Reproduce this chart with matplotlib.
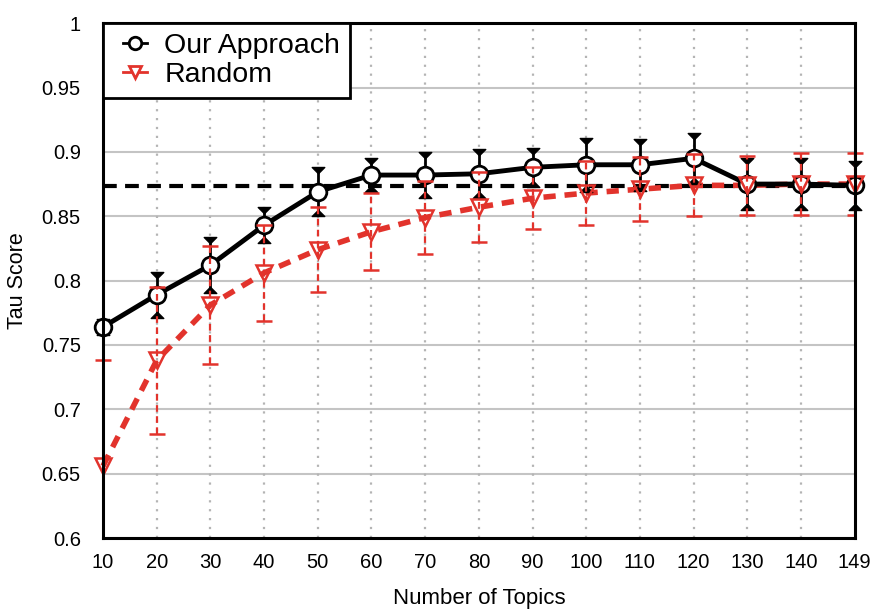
import matplotlib
matplotlib.use("Agg")
import matplotlib.pyplot as plt
import numpy as np
from matplotlib.path import Path
from matplotlib.legend_handler import HandlerLine2D

plt.rcParams['font.family'] = ['Liberation Sans', 'DejaVu Sans']

topics = ["10", "20", "30", "40", "50", "60", "70", "80", "90", "100", "110", "120", "130", "140", "149"]
ours = [0.764, 0.789, 0.812, 0.843, 0.869, 0.882, 0.882, 0.883, 0.888, 0.890, 0.890, 0.895, 0.875, 0.875, 0.874]
ours_err = [0.006, 0.018, 0.022, 0.014, 0.019, 0.013, 0.018, 0.019, 0.015, 0.021, 0.020, 0.020, 0.020, 0.020, 0.019]
rand = [0.656, 0.738, 0.781, 0.806, 0.824, 0.838, 0.849, 0.857, 0.864, 0.868, 0.871, 0.874, 0.874, 0.875, 0.875]
rand_err = [0.082, 0.057, 0.046, 0.037, 0.033, 0.030, 0.028, 0.027, 0.024, 0.025, 0.025, 0.024, 0.023, 0.024, 0.024]
baseline = 0.8735
yticks = [0.6, 0.65, 0.7, 0.75, 0.8, 0.85, 0.9, 0.95, 1.0]
ytick_labels = ["0.6", "0.65", "0.7", "0.75", "0.8", "0.85", "0.9", "0.95", "1"]

RED = '#e2332c'

fig = plt.figure(figsize=(8.73, 6.10), dpi=100)
ax = fig.add_axes([0.118, 0.118, 0.861, 0.844])
x = np.arange(len(topics))
ours = np.array(ours); ours_err = np.array(ours_err)
rand = np.array(rand); rand_err = np.array(rand_err)

# grid
for yv in yticks:
    ax.axhline(yv, color='#c4c4c4', lw=1.5, zorder=0)
for xv in x[1:-1]:
    ax.axvline(xv, color='#b4b4b4', lw=1.6, ls=(0, (1, 3)), zorder=0)

# baseline
ax.axhline(baseline, color='black', lw=3, ls=(0, (3.3, 2)), zorder=2)

# random series
ax.plot(x, rand, color=RED, lw=4, ls=(0, (2.2, 1.6)), zorder=3, clip_on=False)
# random error bars
ax.vlines(x, rand - rand_err, rand + rand_err, color=RED, lw=1.6, ls=(0, (3, 2)), zorder=6)
ax.plot(x, rand + rand_err, ls='none', marker='_', ms=12, mew=1.8, color=RED, zorder=6, clip_on=False)
ax.plot(x, rand - rand_err, ls='none', marker='_', ms=12, mew=1.8, color=RED, zorder=6)

# our approach
ax.plot(x, ours, color='black', lw=3.5, zorder=4, clip_on=False)
ax.vlines(x, ours - ours_err, ours + ours_err, color='black', lw=2, zorder=5)
top_cap = Path([(-1, 0), (1, 0), (0, -1), (-1, 0)], [Path.MOVETO, Path.LINETO, Path.LINETO, Path.CLOSEPOLY])
bot_cap = Path([(-1, 0), (1, 0), (0, 1), (-1, 0)], [Path.MOVETO, Path.LINETO, Path.LINETO, Path.CLOSEPOLY])
ax.plot(x, ours + ours_err, ls='none', marker=top_cap, ms=9, color='black', mew=1, zorder=5, clip_on=False)
ax.plot(x, ours - ours_err, ls='none', marker=bot_cap, ms=9, color='black', mew=1, zorder=5, clip_on=False)

# markers
ax.plot(x, ours, ls='none', marker='o', ms=12, mfc='white', mec='black', mew=2, zorder=5.5, clip_on=False)
ax.plot(x, rand, ls='none', marker='v', ms=12, mfc='none', mec=RED, mew=1.8, zorder=5.6, clip_on=False)

# legend handles
h1, = ax.plot([], [], color='black', lw=2, marker='o', ms=9, mfc='white', mec='black', mew=2)
h2, = ax.plot([], [], color=RED, lw=2, marker='v', ms=9, mfc='white', mec=RED, mew=2)
leg = ax.legend([h1, h2], ["Our Approach", "Random"], loc='upper left', bbox_to_anchor=(0, 1),
                borderaxespad=0, fancybox=False, edgecolor='black', framealpha=1,
                fontsize=20.5, handlelength=1.2, handletextpad=0.6, borderpad=0.35,
                labelspacing=0.1,
                handler_map={h1: HandlerLine2D(xpad=0.35), h2: HandlerLine2D(xpad=0.35)})
leg.get_frame().set_linewidth(2)
leg.set_zorder(10)

ax.set_xlim(0, len(topics) - 1)
ax.set_ylim(0.6, 1.0)
ax.set_xticks(x)
ax.set_xticklabels(topics)
ax.set_yticks(yticks)
ax.set_yticklabels(ytick_labels)
ax.tick_params(length=0, labelsize=14.5)
ax.tick_params(axis='y', pad=16)
ax.tick_params(axis='x', pad=11)
for s in ax.spines.values():
    s.set_linewidth(2.2)
    s.set_color('black')
    s.set_zorder(7)

ax.set_xlabel("Number of Topics", fontsize=16, labelpad=11)
ax.set_ylabel("Tau Score", fontsize=15.5, labelpad=10)

fig.savefig("out.png", dpi=100)
